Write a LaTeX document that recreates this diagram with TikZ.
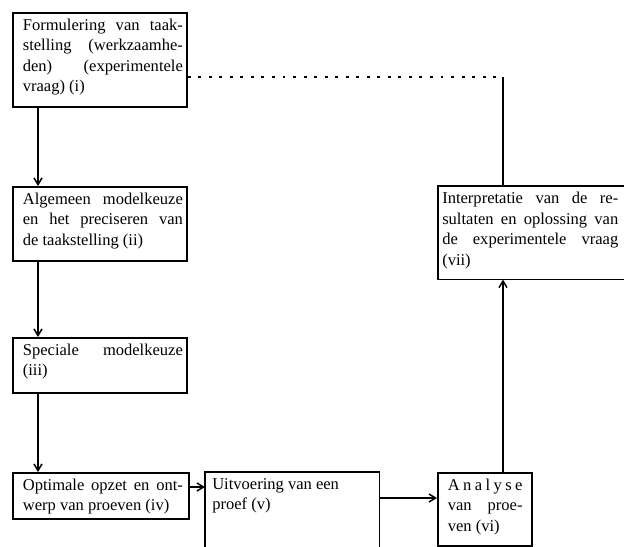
\documentclass[tikz,border=0pt]{standalone}
\usepackage{fontspec}
\setmainfont{Liberation Serif}
\usetikzlibrary{arrows.meta}
\newcommand{\bt}[5]{\parbox[c][#2][t]{#1}{\parindent=0pt\leftskip=#3\relax\rightskip=#4\relax\vspace*{4.5pt}#5}}
\begin{document}
\begin{tikzpicture}[x=0.75pt,y=-0.75pt,
  font=\fontsize{12.4pt}{15.4pt}\selectfont,
  box/.style={draw,line width=1.3pt,inner sep=0pt,anchor=north west},
  openbox/.style={inner sep=0pt,anchor=north west},
  boxline/.style={line width=1.3pt},
  edge/.style={line width=1.1pt},
  arr/.style={edge,-{Straight Barb[length=5pt,width=6pt]}},
  dotline/.style={line width=1.1pt,dash pattern=on 2.2pt off 5.7pt}]
\useasboundingbox (0,0) rectangle (624,546);

\node[box] (b1) at (12,12) {\bt{130.5pt}{70.5pt}{7.5pt}{3pt}{Formulering van taak-\linebreak stelling (werkzaamhe-\linebreak den) (experimentele\linebreak vraag) (i)}};
\node[box] (b2) at (12,186) {\bt{130.5pt}{55.5pt}{7.5pt}{3pt}{Algemeen modelkeuze\linebreak en het preciseren van\linebreak de taakstelling (ii)}};
\node[box] (b3) at (12,337) {\bt{130.5pt}{41.25pt}{7.5pt}{3pt}{Speciale modelkeuze\linebreak (iii)}};
\node[box] (b4) at (12,472) {\bt{132pt}{34.5pt}{7.5pt}{4.5pt}{Optimale opzet en ont-\linebreak werp van proeven (iv)}};
\node[openbox] (b5) at (205,472) {\bt{130.5pt}{55.5pt}{5.25pt}{0pt plus 1fil}{Uitvoering van een\\proef (v)}};
\node[box] (b6) at (437,472) {\bt{70.5pt}{54.75pt}{7.5pt}{7pt}{\leavevmode\hbox to 56pt{A\hfil n\hfil a\hfil l\hfil y\hfil s\hfil e}\\van proe-\linebreak ven (vi)}};
\node[openbox] (b7) at (438,186) {\bt{139.5pt}{69.75pt}{3pt}{4.5pt}{Interpretatie van de re-\linebreak sultaten en oplossing van\linebreak de experimentele vraag\linebreak (vii)}};

\draw[boxline] (b5.south west) -- (b5.north west) -- (b5.north east) -- (b5.south east);
\draw[boxline] (b7.north east) -- (b7.north west) -- (b7.south west) -- (b7.south east);

\draw[arr] ([xshift=19.5pt]b1.south west) -- ([xshift=19.5pt]b2.north west);
\draw[arr] ([xshift=19.5pt]b2.south west) -- ([xshift=19.5pt]b3.north west);
\draw[arr] ([xshift=19.5pt]b3.south west) -- ([xshift=19.5pt]b4.north west);
\draw[arr] ([yshift=-11.25pt]b4.north east) -- ([yshift=-11.25pt]b5.north west);
\draw[arr] ([yshift=-19.5pt]b5.north east) -- ([yshift=-19.5pt]b6.north west);
\coordinate (p6) at ([xshift=49.5pt]b6.north west);
\draw[arr] (p6) -- (p6 |- b7.south);
\coordinate (p1) at ([yshift=-48.75pt]b1.north east);
\coordinate (p7) at ([xshift=48.75pt]b7.north west);
\coordinate (k) at (p1 -| p7);
\draw[dotline] (p1) -- (k);
\draw[edge] (k) -- (p7);
\end{tikzpicture}
\end{document}
